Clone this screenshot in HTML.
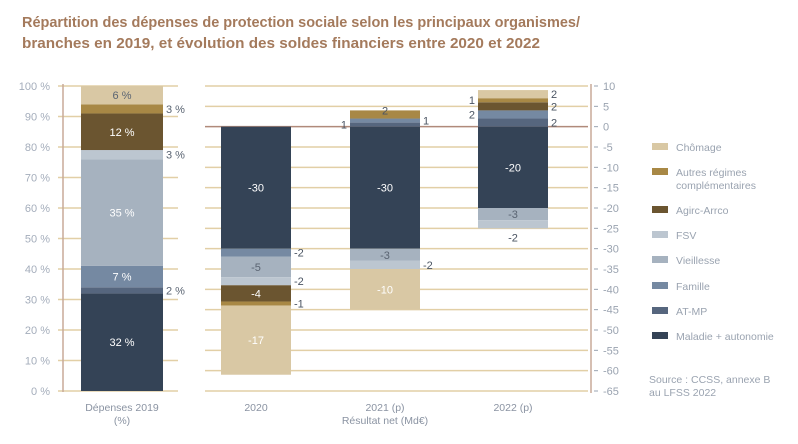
<!DOCTYPE html>
<html><head><meta charset="utf-8"><style>
body{margin:0;background:#fff;font-family:"Liberation Sans",sans-serif}
svg{display:block}
</style></head><body>
<svg id="c" width="798" height="444" xmlns="http://www.w3.org/2000/svg">
<text x="22" y="27" font-size="15" font-weight="bold" fill="#a47a5c" textLength="558" lengthAdjust="spacingAndGlyphs">Répartition des dépenses de protection sociale selon les principaux organismes/</text>
<text x="22" y="48" font-size="15" font-weight="bold" fill="#a47a5c" textLength="518" lengthAdjust="spacingAndGlyphs">branches en 2019, et évolution des soldes financiers entre 2020 et 2022</text>
<g id="g"></g>
</svg>
<script>
const series = ['Maladie + autonomie','AT-MP','Famille','Vieillesse','FSV','Agirc-Arrco','Autres régimes complémentaires','Chômage'];
const colors = ['#344356','#56667e','#7589a2','#a6b2bf','#bcc6d0','#6b5530','#a88845','#d9c8a4'];
const pctValues = [32,2,7,35,3,12,3,6];
const pctLabelPos = ['in','r','in','in','r','in','r','in'];
const years = ['2020','2021 (p)','2022 (p)'];
const soldes2020 = [-30,0,-2,-5,-2,-4,-1,-17];
const soldes2021 = [-30,1,1,-3,-2,0,2,-10];
const soldes2022 = [-20,2,2,-3,-2,2,1,2];
const pos2020 = ['in','','r','in','r','in','r','in'];
const pos2021 = ['in','l','r','in','r','','t','in'];
const pos2022 = ['in','r','l','in','b','r','l','r'];
const leftTicks = [0,10,20,30,40,50,60,70,80,90,100];
const rightTicks = [10,5,0,-5,-10,-15,-20,-25,-30,-35,-40,-45,-50,-55,-60,-65];
const legendOrder = [7,6,5,4,3,2,1,0];

const NS='http://www.w3.org/2000/svg', g=document.getElementById('g');
function el(t,a,txt){const e=document.createElementNS(NS,t);for(const k in a)e.setAttribute(k,a[k]);if(txt!==undefined)e.textContent=txt;g.appendChild(e);return e;}
const yL=v=>391-v*3.05;
const yR=v=>391-(v+65)*305/75;

// left grid
leftTicks.forEach(t=>{
 const l=el('line',{x1:58,x2:178,y1:yL(t),y2:yL(t),stroke:'#e2cfa6','stroke-width':1.5});
 
 const tx=el('text',{x:50,y:yL(t)+4,'font-size':11,fill:'#a4adbb','text-anchor':'end'},t+' %');
 
});
let la=el('line',{x1:63,x2:63,y1:84,y2:392,stroke:'#c8aa98','stroke-width':1.5});

let acc=0;
pctValues.forEach((v,i)=>{
 const y1=yL(acc+v),y0=yL(acc);
 const r=el('rect',{x:81,y:y1,width:82,height:y0-y1,fill:colors[i]});
 
 const cy=(y0+y1)/2+4;
 let t;
 if(pctLabelPos[i]==='in') t=el('text',{x:122,y:cy,'font-size':11,fill:i>=7||i==4?'#5a6472':'#fff','text-anchor':'middle'},v+' %');
 else t=el('text',{x:166,y:cy,'font-size':11,fill:'#5a6472'},v+' %');
 
 acc+=v;
});
let tx=el('text',{x:122,y:411,'font-size':10.5,fill:'#8a93a2','text-anchor':'middle'},'Dépenses 2019');

tx=el('text',{x:122,y:424,'font-size':10.5,fill:'#8a93a2','text-anchor':'middle'},'(%)');


// right grid
rightTicks.forEach(t=>{
 const l=el('line',{x1:205,x2:588,y1:yR(t),y2:yR(t),stroke:t===0?'#b08a7a':'#e2cfa6','stroke-width':1.5});
 
 const tk=el('line',{x1:594,x2:598,y1:yR(t),y2:yR(t),stroke:'#9aa3b0'});
 
 const tt=el('text',{x:603,y:yR(t)+4,'font-size':11,fill:'#9aa3b0'},String(t));
 
});
la=el('line',{x1:591,x2:591,y1:84,y2:393,stroke:'#c8aa98','stroke-width':1.5});


const allVals=[soldes2020,soldes2021,soldes2022], allPos=[pos2020,pos2021,pos2022], bx=[221,350,478];
allVals.forEach((vals,j)=>{
 let pos=0,neg=0;const x=bx[j],w=70;
 vals.forEach((v,i)=>{
  if(!v)return;
  let a,b;
  if(v>0){a=pos;b=pos+v;pos=b;}else{a=neg;b=neg+v;neg=b;}
  const y1=Math.min(yR(a),yR(b)),y2=Math.max(yR(a),yR(b));
  const r=el('rect',{x:x,y:y1,width:w,height:y2-y1,fill:colors[i]});
  
  const p=allPos[j][i],cy=(y1+y2)/2+4;let t;
  const dark=i===7||i===4||i===3&&false;
  if(p==='in') t=el('text',{x:x+w/2,y:cy,'font-size':11,fill:i===3||i===4?'#5a6472':'#fff','text-anchor':'middle'},String(v));
  else if(p==='r') t=el('text',{x:x+w+3,y:cy,'font-size':11,fill:'#4a5462'},String(v));
  else if(p==='l') t=el('text',{x:x-3,y:cy,'font-size':11,fill:'#4a5462','text-anchor':'end'},String(v));
  else if(p==='t') t=el('text',{x:x+w/2,y:y1+4,'font-size':11,fill:'#4a5462','text-anchor':'middle'},String(v));
  else t=el('text',{x:x+w/2,y:y2+13,'font-size':11,fill:'#4a5462','text-anchor':'middle'},String(v));
  
 });
 const xl=el('text',{x:x+w/2,y:411,'font-size':10.5,fill:'#8a93a2','text-anchor':'middle'},years[j]);
 
});
tx=el('text',{x:385,y:424,'font-size':10.5,fill:'#8a93a2','text-anchor':'middle'},'Résultat net (Md€)');


// legend
const ly=[147,172,210,235,260,286,311,336];
legendOrder.forEach((s,k)=>{
 const r=el('rect',{x:652,y:ly[k]-4,width:16,height:7,fill:colors[s]});
 
 if(s===6){
  let t=el('text',{x:676,y:ly[k]+4,'font-size':10.5,fill:'#9aa3b0'},'Autres régimes');
  
  t=el('text',{x:676,y:ly[k]+17,'font-size':10.5,fill:'#9aa3b0'},'complémentaires');
  
 } else {
  const t=el('text',{x:676,y:ly[k]+4,'font-size':10.5,fill:'#9aa3b0'},series[s]);
  
 }
});
tx=el('text',{x:649,y:383,'font-size':10.5,fill:'#9aa3b0'},'Source : CCSS, annexe B');

tx=el('text',{x:649,y:396,'font-size':10.5,fill:'#9aa3b0'},'au LFSS 2022');

</script>
</body></html>
